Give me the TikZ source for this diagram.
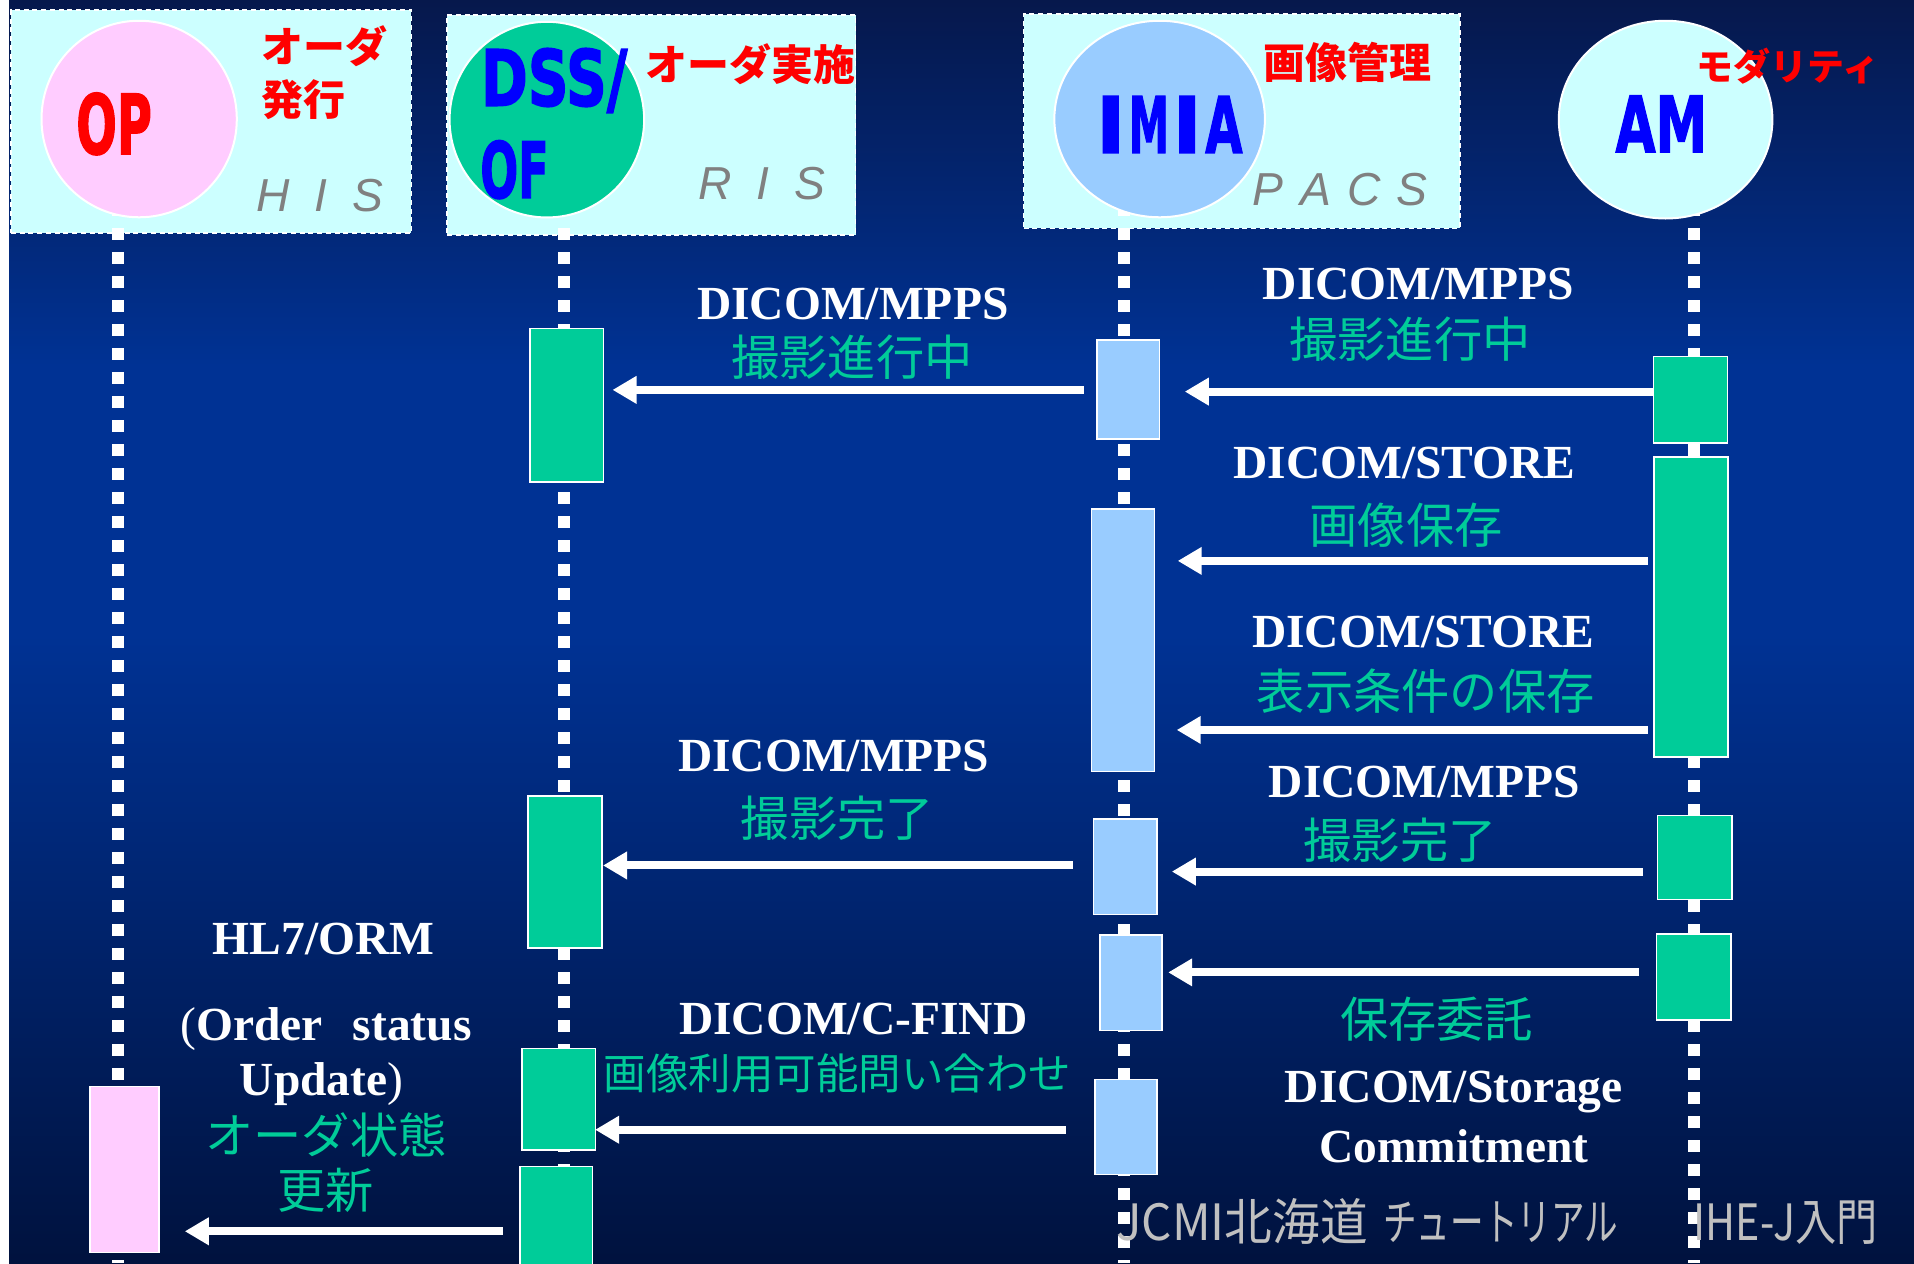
\documentclass[tikz,border=0pt]{standalone}
\usepackage{fontspec}
\usepackage{graphicx}
\setmainfont{Liberation Serif}
\newfontfamily\jpfont{Noto Sans CJK JP}
\newfontfamily\heavyfont{DejaVu Sans}[BoldFeatures={FakeBold=2}]
\newfontfamily\itfont{Liberation Sans}
\usetikzlibrary{shapes.geometric,arrows.meta}
\newdimen\pxu \pxu=0.4883pt
\definecolor{jpgreen}{RGB}{0,204,153}
\definecolor{actgreen}{RGB}{0,204,153}
\definecolor{lblue}{RGB}{153,204,255}
\definecolor{pinkc}{RGB}{255,204,255}
\definecolor{cyanbg}{RGB}{204,255,255}
\definecolor{sysgray}{RGB}{128,128,128}
\definecolor{footgray}{RGB}{192,192,192}
\definecolor{bgtop}{RGB}{6,24,76}
\definecolor{bgmid}{RGB}{0,50,148}
\definecolor{bgbot}{RGB}{0,18,62}
\definecolor{pureblue}{RGB}{0,0,255}
\definecolor{purered}{RGB}{255,0,0}
\newcommand\abox[6]{\node[act, fill=#6, minimum width={(#4-#2)*0.4883pt}, minimum height={(#5-#3)*0.4883pt}] (#1) at ({(#2+#4)/2},{(#3+#5)/2}) {};}
\begin{document}
\begin{tikzpicture}[x=0.4883pt,y=-0.4883pt,
  dcm/.style={text=white, font=\fontsize{19}{19}\selectfont\bfseries, inner sep=0},
  jpg/.style={text=jpgreen, font=\jpfont\fontsize{19.3}{19.3}\selectfont, inner sep=0},
  jpr/.style={text=purered, font=\jpfont\bfseries\fontsize{16.8}{16.8}\selectfont, inner sep=0},
  sysl/.style={text=sysgray, font=\itfont\itshape\fontsize{18.5}{18.5}\selectfont, inner sep=0},
  big/.style={font=\heavyfont\bfseries\fontsize{31}{31}\selectfont, inner sep=0},
  act/.style={draw=white, line width=0.6pt, inner sep=0},
  sysbox/.style={fill=cyanbg, draw=white, line width=0.6pt, dash pattern=on 2pt off 1.5pt, inner sep=0},
  actor/.style={ellipse, draw=white, line width=0.8pt, inner sep=0},
  life/.style={white, line width=4.8pt, dash pattern=on 4.8pt off 4.8pt},
  msg/.style={white, line width=3.2pt, -{Triangle[length=9.6pt,width=10.5pt]}},
  foot/.style={text=footgray, font=\jpfont\fontsize{20}{20}\selectfont, inner sep=0}
]
\useasboundingbox (0,0) rectangle (1568,1035);
% background
\fill[white] (0,0) rectangle (1568,1035);
\shade[top color=bgtop,bottom color=bgmid] (7.5,0) rectangle (1568,300);
\fill[bgmid] (7.5,299.5) rectangle (1568,520.5);
\shade[top color=bgmid,bottom color=bgbot] (7.5,520) rectangle (1568,1035);

% system boxes
\node[sysbox, minimum width={328*0.4883pt}, minimum height={182.8*0.4883pt}] (his) at (173,99.6) {};
\node[sysbox, minimum width={335*0.4883pt}, minimum height={180.2*0.4883pt}] (ris) at (533.5,102.4) {};
\node[sysbox, minimum width={357.5*0.4883pt}, minimum height={175.5*0.4883pt}] (pacs) at (1017.25,99.25) {};

% lifelines
\coordinate (l1t) at (96.6,147.6);  \coordinate (l1b) at (96.6,1035);
\coordinate (l2t) at (462,147.6);   \coordinate (l2b) at (462,1035);
\coordinate (l3t) at (920.4,147.6); \coordinate (l3b) at (920.4,1035);
\coordinate (l4t) at (1387.5,147.6);\coordinate (l4b) at (1387.5,1035);
\draw[life] (l1t) -- (l1b);
\draw[life] (l2t) -- (l2b);
\draw[life] (l3t) -- (l3b);
\draw[life] (l4t) -- (l4b);

% actors
\node[actor, fill=pinkc, minimum width={160*0.4883pt}, minimum height={161*0.4883pt}] (op) at (114,97.5) {};
\node[actor, fill=actgreen, minimum width={159.4*0.4883pt}, minimum height={160.3*0.4883pt}] (dss) at (448,98) {};
\node[actor, fill=lblue, minimum width={172.5*0.4883pt}, minimum height={161*0.4883pt}] (imia) at (950,97.5) {};
\node[actor, fill=cyanbg, minimum width={175*0.4883pt}, minimum height={162*0.4883pt}] (am) at (1364.5,98) {};

% actor names
\node[big, text=purered, font=\heavyfont\bfseries\fontsize{33}{33}\selectfont] (optxt) at (93.5,101.5) {\resizebox{62\pxu}{\height}{OP}};
\node[big, text=pureblue] (dsstxt) at (454,66) {\resizebox{120\pxu}{\height}{DSS/}};
\node[big, text=pureblue] (oftxt) at (421.5,139) {\resizebox{56\pxu}{\height}{OF}};
\node[big, text=pureblue] (imiatxt) at (958,102) {I\hspace{1.5pt}\scalebox{0.52}[1]{M}\hspace{1.5pt}I\hspace{1.5pt}\scalebox{0.62}[1]{A}};
\node[big, text=pureblue] (amtxt) at (1361,101.5) {\resizebox{75\pxu}{\height}{AM}};

% red role labels
\node[jpr, anchor=west] (r1) at (214,38) {オーダ};
\node[jpr, anchor=west] (r2) at (214,81.5) {発行};
\node[jpr] (r3) at (615,53) {オーダ実施};
\node[jpr] (r4) at (1103.5,51) {画像管理};
\node[jpr, font=\jpfont\bfseries\fontsize{14.8}{14.8}\selectfont] (r5) at (1464.5,54.5) {モダリティ};

% system names
\node[sysl] (s1) at (262,160) {H\hspace{10pt}I\hspace{10pt}S};
\node[sysl] (s2) at (624,150) {R\hspace{10pt}I\hspace{10pt}S};
\node[sysl] (s3) at (1098,155) {P\hspace{6.5pt}A\hspace{6.5pt}C\hspace{6.5pt}S};

% activation boxes
\abox{dss1}{434}{269}{494.4}{395}{actgreen}
\abox{imia1}{898.5}{278.5}{950}{359.8}{lblue}
\abox{am1}{1354.7}{292}{1415}{363}{actgreen}
\abox{am2}{1355}{374.5}{1415.5}{620}{actgreen}
\abox{imia2}{894}{417}{945.6}{632}{lblue}
\abox{dss2}{432.5}{652}{493}{776.6}{actgreen}
\abox{imia3}{896}{671}{948}{749}{lblue}
\abox{am3}{1358}{668}{1419}{737}{actgreen}
\abox{imia4}{901}{766}{952}{844}{lblue}
\abox{am4}{1357}{765}{1418}{835.5}{actgreen}
\abox{dss3}{427.7}{859}{488}{942}{actgreen}
\abox{imia5}{897}{884.5}{948}{962}{lblue}
\abox{dss4}{426}{955.5}{485.5}{1045}{actgreen}
\abox{op1}{73.7}{890}{130.4}{1026}{pinkc}

% messages
\coordinate (m1s) at (888,319.4);   \coordinate (m1e) at (501.8,319.4);
\coordinate (m2s) at (1355,320.8);  \coordinate (m2e) at (970.6,320.8);
\coordinate (m3s) at (1349.7,459.5);\coordinate (m3e) at (964.8,459.5);
\coordinate (m4s) at (1350,598);    \coordinate (m4e) at (964,598);
\coordinate (m5s) at (879,709);     \coordinate (m5e) at (494,709);
\coordinate (m6s) at (1346,714);    \coordinate (m6e) at (960,714);
\coordinate (m7s) at (1342.7,796.6);\coordinate (m7e) at (957,796.6);
\coordinate (m8s) at (873,925.5);   \coordinate (m8e) at (487.5,925.5);
\coordinate (m9s) at (412,1008.7);  \coordinate (m9e) at (151.4,1008.7);
\draw[msg] (m1s) -- (m1e);
\draw[msg] (m2s) -- (m2e);
\draw[msg] (m3s) -- (m3e);
\draw[msg] (m4s) -- (m4e);
\draw[msg] (m5s) -- (m5e);
\draw[msg] (m6s) -- (m6e);
\draw[msg] (m7s) -- (m7e);
\draw[msg] (m8s) -- (m8e);
\draw[msg] (m9s) -- (m9e);

% message labels
\node[dcm] (t1) at (698.6,249) {DICOM/MPPS};
\node[jpg] (j1) at (698,293) {撮影進行中};
\node[dcm] (t2) at (1162,232.5) {DICOM/MPPS};
\node[jpg] (j2) at (1155,278) {撮影進行中};
\node[dcm] (t3) at (1150.5,379.5) {DICOM/STORE};
\node[jpg] (j3) at (1152,430) {画像保存};
\node[dcm] (t4) at (1166,518) {DICOM/STORE};
\node[jpg] (j4) at (1168,566) {表示条件の保存};
\node[dcm] (t5) at (683,619) {DICOM/MPPS};
\node[jpg] (j5) at (686,670) {撮影完了};
\node[dcm] (t6) at (1167,641) {DICOM/MPPS};
\node[jpg] (j6) at (1147,688) {撮影完了};
\node[jpg] (j7) at (1177,835) {保存委託};
\node[dcm] (t7) at (1191,894.5) {DICOM/Storage};
\node[dcm] (t8) at (1191,939) {Commitment};
\node[dcm] (t9) at (699,835) {DICOM/C-FIND};
\node[jpg, font=\jpfont\fontsize{17}{17}\selectfont] (j8) at (686,879) {画像利用可能問い合わせ};
\node[dcm] (t10) at (265,769) {HL7/ORM};
\node[dcm] (t11) at (267,843) {{\mdseries(}Order\hspace{12pt}status};
\node[dcm] (t12) at (263.5,888) {Update{\mdseries)}};
\node[jpg] (j9) at (267,930) {オーダ状態};
\node[jpg] (j10) at (267,975) {更新};

% footer
\node[foot, anchor=west] (foot) at (914,1001) {\resizebox{100.6pt}{\height}{JCMI北海道}\hspace{6.3pt}\resizebox{93.8pt}{\height}{チュートリアル}\hspace{30.3pt}\resizebox{73.7pt}{\height}{IHE-J入門}};
\end{tikzpicture}
\end{document}
